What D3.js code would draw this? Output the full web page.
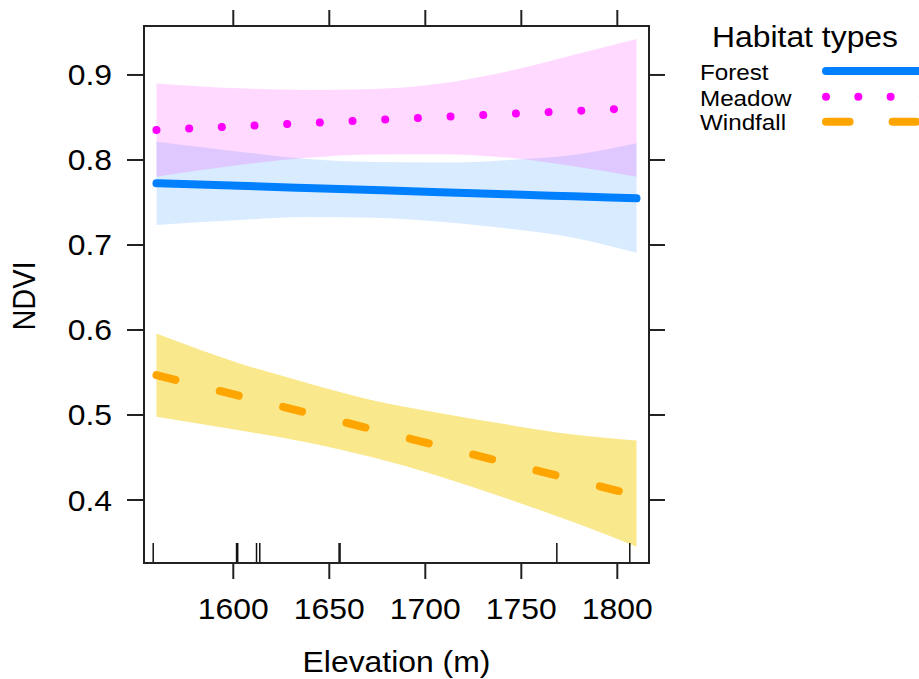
<!DOCTYPE html>
<html>
<head>
<meta charset="utf-8">
<script src="https://cdn.jsdelivr.net/npm/d3@7"></script>
<style>
  html, body { margin: 0; padding: 0; background: #fff; }
  svg text { font-family: "Liberation Sans", Arial, Helvetica, sans-serif; fill: #000; }
</style>
</head>
<body>
<svg id="chart" width="919" height="679"></svg>
<script>
// ---------- data ----------
const elevation = [1560, 1603, 1638, 1673, 1708, 1742, 1777, 1810];

const forestFit   = [0.7726, 0.7696, 0.7671, 0.7646, 0.7621, 0.7597, 0.7572, 0.7549];
const forestLower = [0.7235, 0.7294, 0.7329, 0.7321, 0.7274, 0.7196, 0.7086, 0.6909];
const forestUpper = [0.8215, 0.8098, 0.8013, 0.7975, 0.7970, 0.7998, 0.8058, 0.8196];

const meadowFit   = [0.8353, 0.8397, 0.8433, 0.8469, 0.8505, 0.8540, 0.8576, 0.8610];
const meadowLower = [0.7804, 0.7940, 0.8025, 0.8065, 0.8068, 0.8030, 0.7925, 0.7804];
const meadowUpper = [0.8900, 0.8843, 0.8824, 0.8835, 0.8900, 0.9039, 0.9235, 0.9424];

const windfallFit   = [0.5470, 0.5226, 0.5028, 0.4829, 0.4631, 0.4438, 0.4240, 0.4053];
const windfallLower = [0.4980, 0.4820, 0.4680, 0.4500, 0.4275, 0.4020, 0.3740, 0.3450];
const windfallUpper = [0.5960, 0.5610, 0.5380, 0.5170, 0.5020, 0.4890, 0.4770, 0.4700];

const rugElevations = [1558.3, 1601.7, 1602.3, 1612.1, 1613.8, 1655.1, 1655.6, 1768.5, 1806.5];

const xTicks = [1600, 1650, 1700, 1750, 1800];
const yTicks = [0.4, 0.5, 0.6, 0.7, 0.8, 0.9];
const yTickLabels = ["0.4", "0.5", "0.6", "0.7", "0.8", "0.9"];

const habitats = ["Forest", "Meadow", "Windfall"];
const lineColors = ["#0080FF", "#FF00FF", "#FFA500"];
const bandColors = ["rgba(0,128,255,0.15)", "rgba(255,0,255,0.15)", "#FAE88D"];

// ---------- layout ----------
const L = 144, R = 649, T = 26, B = 563;
const sx = 1.1; // horizontal text stretch
const svg = d3.select("#chart");

const x = d3.scaleLinear().domain([1553.5, 1816.5]).range([L, R]);
const y = d3.scaleLinear().domain([0.3259, 0.9576]).range([B, T]);

function stretchedText(g, tx, ty, str, size, anchor, rotate) {
  const t = g.append("text")
    .attr("transform", `translate(${tx},${ty})` + (rotate ? ` rotate(${rotate})` : "") + ` scale(${sx},1)`)
    .attr("text-anchor", anchor)
    .style("font-size", size + "px")
    .text(str);
  return t;
}

// ---------- bands ----------
const series = [
  { fit: forestFit, lo: forestLower, hi: forestUpper },
  { fit: meadowFit, lo: meadowLower, hi: meadowUpper },
  { fit: windfallFit, lo: windfallLower, hi: windfallUpper }
];

const area = d3.area()
  .x(d => x(d.e)).y0(d => y(d.lo)).y1(d => y(d.hi))
  .curve(d3.curveMonotoneX);
const line = d3.line().x(d => x(d.e)).y(d => y(d.v)).curve(d3.curveMonotoneX);

const gPlot = svg.append("g");
series.forEach((s, i) => {
  const pts = elevation.map((e, k) => ({ e, lo: s.lo[k], hi: s.hi[k] }));
  gPlot.append("path").attr("d", area(pts)).attr("fill", bandColors[i]).attr("stroke", "none");
});

const dashStyles = [null, "0.01,32.7", "19.5,45.8"];
series.forEach((s, i) => {
  const pts = elevation.map((e, k) => ({ e, v: s.fit[k] }));
  const p = gPlot.append("path").attr("d", line(pts))
    .attr("fill", "none").attr("stroke", lineColors[i])
    .attr("stroke-width", 8).attr("stroke-linecap", "round");
  if (dashStyles[i]) p.attr("stroke-dasharray", dashStyles[i]);
});

// ---------- rug ----------
svg.append("g").selectAll("line").data(rugElevations).join("line")
  .attr("x1", d => x(d)).attr("x2", d => x(d))
  .attr("y1", B).attr("y2", B - 20)
  .attr("stroke", "#111").attr("stroke-width", 1.5);

// ---------- frame & ticks ----------
svg.append("rect").attr("x", L).attr("y", T).attr("width", R - L).attr("height", B - T)
  .attr("fill", "none").attr("stroke", "#222").attr("stroke-width", 2);

const gAx = svg.append("g").attr("stroke", "#222").attr("stroke-width", 2);
xTicks.forEach(v => {
  gAx.append("line").attr("x1", x(v)).attr("x2", x(v)).attr("y1", B).attr("y2", B + 16);
  gAx.append("line").attr("x1", x(v)).attr("x2", x(v)).attr("y1", T).attr("y2", T - 16);
});
yTicks.forEach(v => {
  gAx.append("line").attr("x1", L).attr("x2", L - 17).attr("y1", y(v)).attr("y2", y(v));
  gAx.append("line").attr("x1", R).attr("x2", R + 16).attr("y1", y(v)).attr("y2", y(v));
});

const gTxt = svg.append("g");
xTicks.forEach(v => {
  stretchedText(gTxt, x(v), 618.5, String(v), 29, "middle");
});
yTicks.forEach((v, i) => {
  stretchedText(gTxt, 112, y(v) + 10.5, yTickLabels[i], 29, "end");
});

// axis titles
stretchedText(gTxt, (L + R) / 2, 672, "Elevation (m)", 29, "middle");
gTxt.append("text")
  .attr("transform", `translate(35,296) rotate(-90) scale(1,${sx})`)
  .attr("text-anchor", "middle")
  .style("font-size", "29px")
  .text("NDVI");

// ---------- legend ----------
stretchedText(gTxt, 805, 46.5, "Habitat types", 29, "middle");
const legY = [71, 96.7, 121.7];
const legBase = [80, 105.5, 130];
const legDash = [null, "0.01,32.3", "23.6,43"];
habitats.forEach((h, i) => {
  stretchedText(gTxt, 700, legBase[i], h, 22, "start");
  const p = svg.append("line")
    .attr("x1", 826).attr("x2", 940)
    .attr("y1", legY[i]).attr("y2", legY[i])
    .attr("stroke", lineColors[i]).attr("stroke-width", 8).attr("stroke-linecap", "round");
  if (legDash[i]) p.attr("stroke-dasharray", legDash[i]);
});
</script>
</body>
</html>
